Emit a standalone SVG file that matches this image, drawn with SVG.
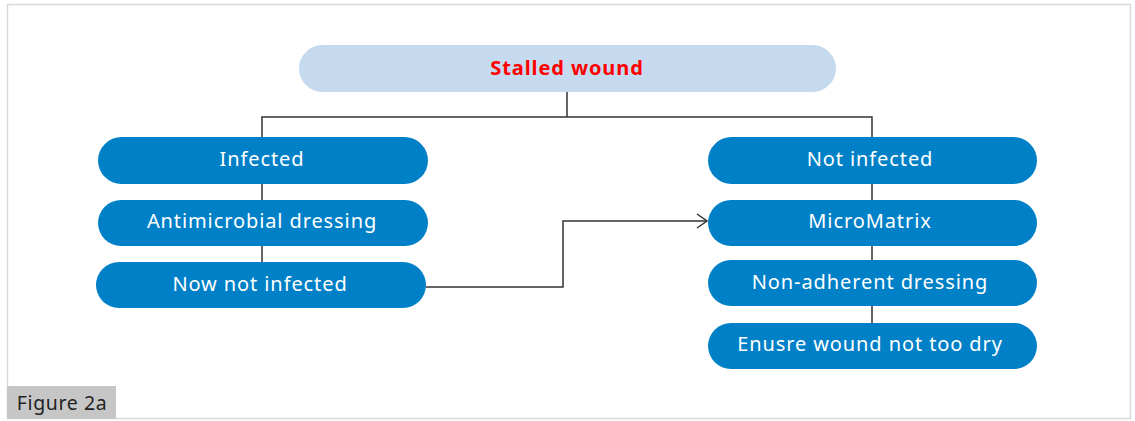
<svg xmlns="http://www.w3.org/2000/svg" width="1135" height="421" viewBox="0 0 1135 421">
<defs>
<style>
.n{fill:#0080c6;}
.t{font-family:"Noto Sans","Open Sans",sans-serif;font-size:20px;letter-spacing:0.9px;fill:#ffffff;text-anchor:middle;dominant-baseline:central;}
.c{fill:none;stroke:#333333;stroke-width:1.5;}
</style>
<marker id="arr" viewBox="0 0 12 16" refX="11" refY="8" markerWidth="12" markerHeight="16" markerUnits="userSpaceOnUse" orient="auto">
<path d="M1,1 L11,8 L1,15" fill="none" stroke="#333333" stroke-width="1.5"/>
</marker>
</defs>
<rect x="0" y="0" width="1135" height="421" fill="#ffffff"/>
<rect x="7.5" y="4.5" width="1123" height="414" fill="none" stroke="#d9d9d9" stroke-width="1.5"/>
<g id="connectors">
<path class="c" d="M567,92 V117 M262,137 V117 H872 V137"/>
<path class="c" d="M262,184 V200 M262,246 V262"/>
<path class="c" d="M872,184 V200 M872,246 V260 M872,306 V323"/>
<path class="c" d="M426,287 H563 V221 H707" marker-end="url(#arr)"/>
</g>
<g id="stalled">
<rect x="299" y="45" width="537" height="47" rx="23.5" fill="#c5d9ef"/>
<text x="567" y="67" class="t" style="fill:#ff0000;font-weight:bold;">Stalled wound</text>
</g>
<g id="infected">
<rect class="n" x="98" y="137" width="330" height="47" rx="23.5"/>
<text x="262" y="158" class="t">Infected</text>
</g>
<g id="antimicrobial">
<rect class="n" x="98" y="200" width="330" height="46" rx="23"/>
<text x="262" y="220" class="t">Antimicrobial dressing</text>
</g>
<g id="nownotinfected">
<rect class="n" x="96" y="262" width="330" height="46" rx="23"/>
<text x="260" y="283" class="t">Now not infected</text>
</g>
<g id="notinfected">
<rect class="n" x="708" y="137" width="329" height="47" rx="23.5"/>
<text x="870" y="158" class="t">Not infected</text>
</g>
<g id="micromatrix">
<rect class="n" x="708" y="200" width="329" height="46" rx="23"/>
<text x="870" y="220" class="t">MicroMatrix</text>
</g>
<g id="nonadherent">
<rect class="n" x="708" y="260" width="329" height="46" rx="23"/>
<text x="870" y="281" class="t">Non-adherent dressing</text>
</g>
<g id="ensure">
<rect class="n" x="708" y="323" width="329" height="46" rx="23"/>
<text x="870" y="343" class="t">Enusre wound not too dry</text>
</g>
<g id="figlabel">
<rect x="7" y="386" width="109" height="33" fill="#c6c6c6"/>
<text x="62" y="402" style="font-family:'Noto Sans','Open Sans',sans-serif;font-size:19.5px;letter-spacing:0.6px;fill:#222222;text-anchor:middle;dominant-baseline:central;">Figure 2a</text>
</g>
</svg>
